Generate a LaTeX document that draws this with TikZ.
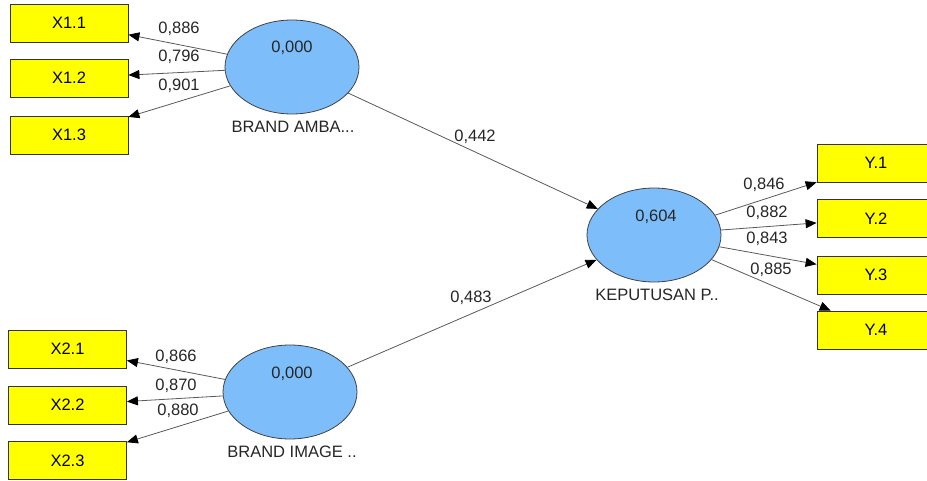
\documentclass[tikz,border=0pt]{standalone}
\usepackage{fontspec}
\setmainfont{Liberation Sans}
\usetikzlibrary{arrows.meta,shapes.geometric}
\definecolor{lvfill}{RGB}{125,190,250}
\definecolor{ind}{RGB}{255,255,0}
\begin{document}
\begin{tikzpicture}[x=1pt,y=-1pt,
  indicator/.style={draw=black!80, fill=ind, minimum width=118pt, minimum height=38pt,
    inner sep=0pt, line width=0.8pt, font=\fontsize{16.5}{19}\selectfont},
  latent/.style={ellipse, draw=black!75, fill=lvfill, minimum width=134pt,
    minimum height=94pt, inner sep=0pt, line width=0.8pt},
  link/.style={draw=black!65, line width=0.8pt,
    -{Triangle[length=11pt,width=9pt,color=black]}},
  coef/.style={font=\fontsize{16.5}{19}\selectfont, text=black!85, inner sep=0pt},
  lvname/.style={font=\fontsize{16.5}{19}\selectfont, text=black!85, inner sep=0pt}]
\useasboundingbox (0,0) rectangle (927,481);
\clip (0,0) rectangle (927,481);

% latent variables
\node[latent] (ba) at (292,67) {};
\node[latent] (bi) at (290,392) {};
\node[latent] (kp) at (654,235) {};
\node[coef] (ba-r2) at (292,48) {0,000};
\node[coef] (bi-r2) at (292,374) {0,000};
\node[coef] (kp-r2) at (656,217) {0,604};
\node[lvname] (ba-name) at (293,127) {BRAND AMBA...};
\node[lvname] (bi-name) at (292,452) {BRAND IMAGE ..};
\node[lvname] (kp-name) at (657,295) {KEPUTUSAN P..};

% indicators
\node[indicator] (x11) at (69,23) {X1.1};
\node[indicator] (x12) at (69,78) {X1.2};
\node[indicator] (x13) at (69,135) {X1.3};
\node[indicator] (x21) at (67.5,349) {X2.1};
\node[indicator] (x22) at (67.5,405) {X2.2};
\node[indicator] (x23) at (67.5,460.5) {X2.3};
\node[indicator] (y1) at (876,163) {Y.1};
\node[indicator] (y2) at (876,218.5) {Y.2};
\node[indicator] (y3) at (876,275) {Y.3};
\node[indicator] (y4) at (876,330) {Y.4};

% outer loadings
\draw[link] (ba) -- (x11);
\draw[link] (ba) -- (x12);
\draw[link] (ba) -- (x13);
\draw[link] (bi) -- (x21);
\draw[link] (bi) -- (x22);
\draw[link] (bi) -- (x23);
\draw[link] (kp) -- (y1);
\draw[link] (kp) -- (y2);
\draw[link] (kp) -- (y3);
\draw[link] (kp) -- (y4);

% structural paths
\draw[link] (ba) -- (kp);
\draw[link] (bi) -- (kp);

% coefficients
\node[coef] (l11) at (179,29) {0,886};
\node[coef] (l12) at (179,57) {0,796};
\node[coef] (l13) at (179,86) {0,901};
\node[coef] (l21) at (176,357) {0,866};
\node[coef] (l22) at (176,386) {0,870};
\node[coef] (l23) at (178,411) {0,880};
\node[coef] (ly1) at (764,185) {0,846};
\node[coef] (ly2) at (767,213) {0,882};
\node[coef] (ly3) at (767,239) {0,843};
\node[coef] (ly4) at (771,270) {0,885};
\node[coef] (p1) at (475,137) {0,442};
\node[coef] (p2) at (471,298) {0,483};
\end{tikzpicture}
\end{document}
